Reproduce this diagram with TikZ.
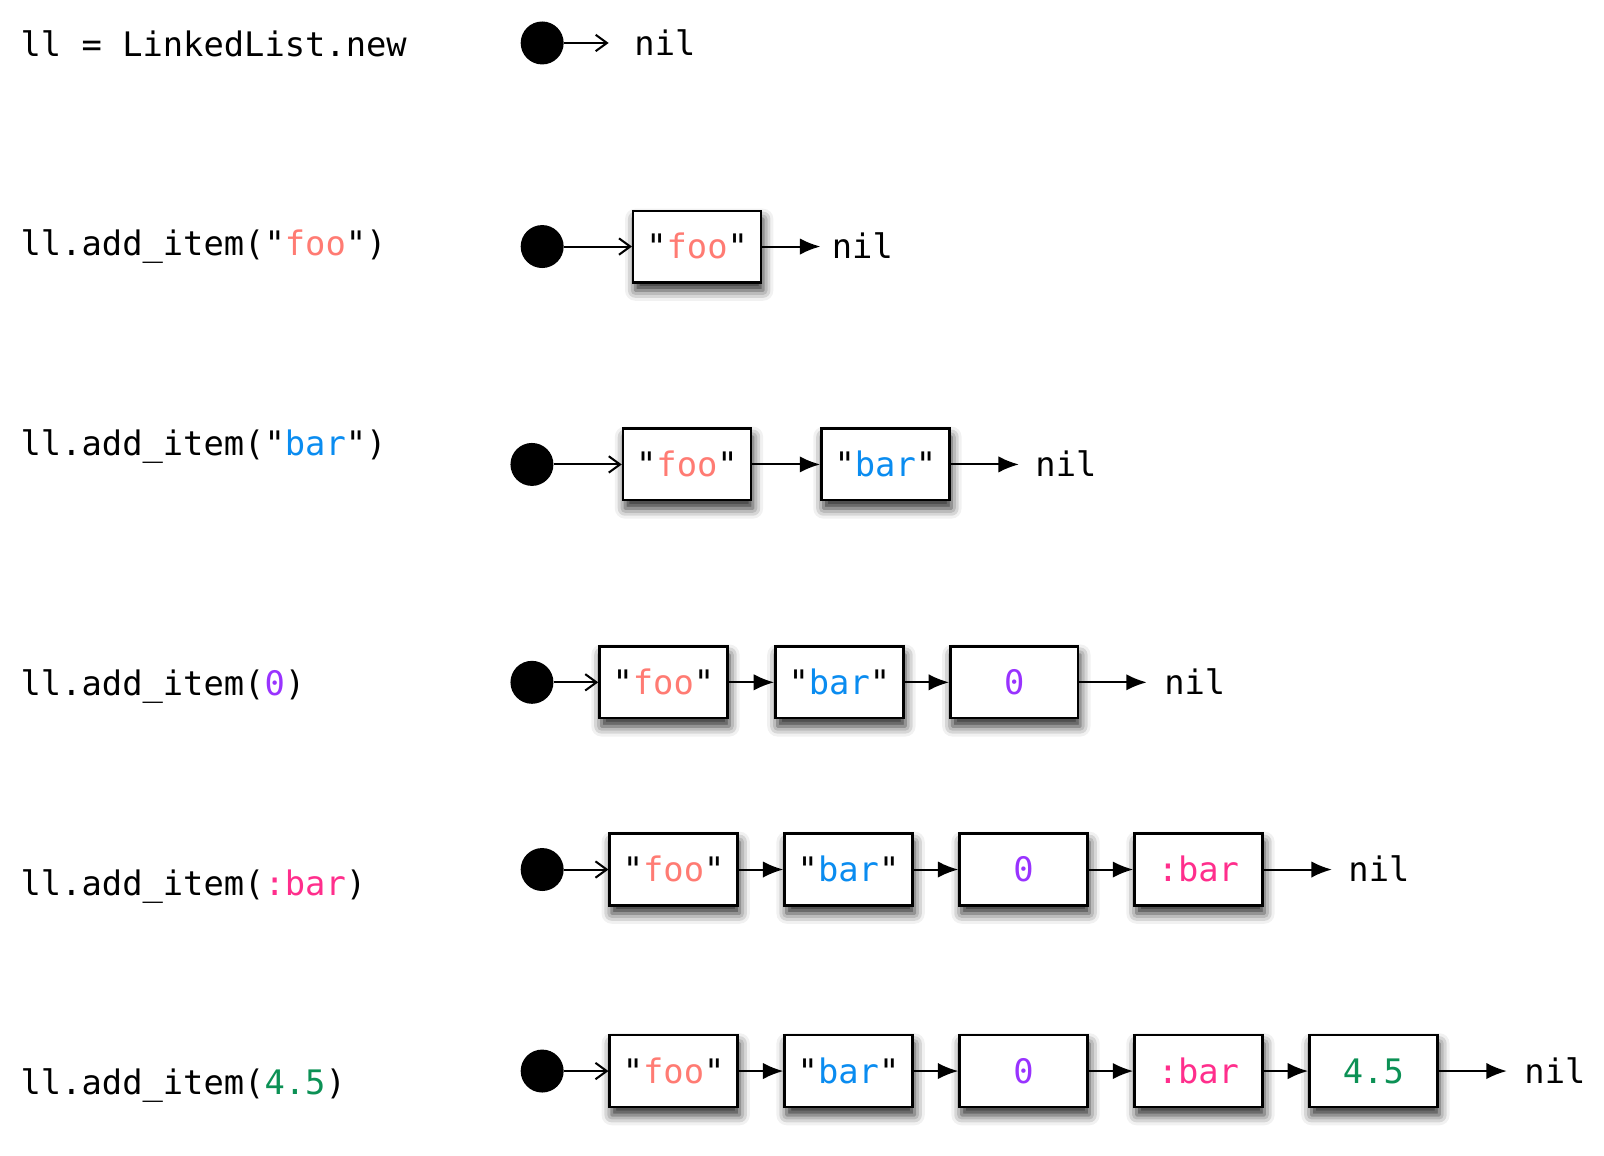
\documentclass[tikz,border=0pt]{standalone}
\usepackage{fontspec}
\setmonofont{DejaVu Sans Mono}
\usetikzlibrary{arrows.meta,shadows.blur}
\definecolor{cfoo}{HTML}{FF7B73}
\definecolor{cbar}{HTML}{0A8CF0}
\definecolor{czero}{HTML}{9933FF}
\definecolor{csym}{HTML}{FF2E8C}
\definecolor{cflt}{HTML}{0C9155}
\tikzset{
  code/.style={font=\ttfamily\fontsize{33}{40}\selectfont, inner sep=0pt, anchor=base west},
  head/.style={circle, fill=black, minimum size=42pt, inner sep=0pt},
  cell/.style={draw=black, line width=2.4pt, fill=white, minimum width=125pt, minimum height=70pt,
    inner sep=0pt, text height=26pt, text depth=2pt, font=\ttfamily\fontsize{33}{40}\selectfont,
    blur shadow={shadow xshift=2pt, shadow yshift=-8pt, shadow blur radius=10pt, shadow opacity=85}},
  nilnode/.style={font=\ttfamily\fontsize{33}{40}\selectfont, inner sep=0pt, anchor=west, text height=26pt, text depth=2pt},
  openarr/.style={line width=2pt, -{Straight Barb[length=11pt,width=16pt,line width=2pt]}},
  fillarr/.style={line width=2pt, -{Latex[length=20pt,width=16pt]}},
}
\newcommand{\sfoo}{"\textcolor{cfoo}{foo}"}
\newcommand{\sbar}{"\textcolor{cbar}{bar}"}
\newcommand{\szero}{\textcolor{czero}{0}}
\newcommand{\ssym}{\textcolor{csym}{:bar}}
\newcommand{\sflt}{\textcolor{cflt}{4.5}}
\begin{document}
\begin{tikzpicture}[x=1pt,y=-1pt]
\useasboundingbox (0,0) rectangle (1568,1130);
% labels
\node[code] (l1) at (20,55) {ll = LinkedList.new};
\node[code] (l2) at (20,250) {ll.add\_item(\sfoo)};
\node[code] (l3) at (20,445) {ll.add\_item(\sbar)};
\node[code] (l4) at (20,680) {ll.add\_item(\szero)};
\node[code] (l5) at (20,875) {ll.add\_item(\ssym)};
\node[code] (l6) at (20,1070) {ll.add\_item(\sflt)};
% row 1
\node[head] (c1) at (530,42) {};
\node[nilnode] (n1) at (620,42) {nil};
\draw[openarr, shorten >=25pt] (c1) -- (n1);
% row 2
\node[head] (c2) at (530,241) {};
\node[cell] (b21) at (681.5,241) {\sfoo};
\node[nilnode] (n2) at (813,241) {nil};
\draw[openarr] (c2) -- (b21);
\draw[fillarr, shorten >=11pt] (b21) -- (n2);
% row 3
\node[head] (c3) at (520,454) {};
\node[cell] (b31) at (671.5,454) {\sfoo};
\node[cell] (b32) at (865.5,454) {\sbar};
\node[nilnode] (n3) at (1012,454) {nil};
\draw[openarr] (c3) -- (b31);
\draw[fillarr] (b31) -- (b32);
\draw[fillarr, shorten >=16pt] (b32) -- (n3);
% row 4
\node[head] (c4) at (520,667) {};
\node[cell] (b41) at (648.5,667) {\sfoo};
\node[cell] (b42) at (820.5,667) {\sbar};
\node[cell] (b43) at (991.5,667) {\szero};
\node[nilnode] (n4) at (1138,667) {nil};
\draw[openarr] (c4) -- (b41);
\draw[fillarr] (b41) -- (b42);
\draw[fillarr] (b42) -- (b43);
\draw[fillarr, shorten >=17pt] (b43) -- (n4);
% row 5
\node[head] (c5) at (530,850) {};
\node[cell] (b51) at (658.5,850) {\sfoo};
\node[cell] (b52) at (829.5,850) {\sbar};
\node[cell] (b53) at (1000.5,850) {\szero};
\node[cell] (b54) at (1171.5,850) {\ssym};
\node[nilnode] (n5) at (1318,850) {nil};
\draw[openarr] (c5) -- (b51);
\draw[fillarr] (b51) -- (b52);
\draw[fillarr] (b52) -- (b53);
\draw[fillarr] (b53) -- (b54);
\draw[fillarr, shorten >=16pt] (b54) -- (n5);
% row 6
\node[head] (c6) at (530,1047) {};
\node[cell] (b61) at (658.5,1047) {\sfoo};
\node[cell] (b62) at (829.5,1047) {\sbar};
\node[cell] (b63) at (1000.5,1047) {\szero};
\node[cell] (b64) at (1171.5,1047) {\ssym};
\node[cell] (b65) at (1342.5,1047) {\sflt};
\node[nilnode] (n6) at (1490,1047) {nil};
\draw[openarr] (c6) -- (b61);
\draw[fillarr] (b61) -- (b62);
\draw[fillarr] (b62) -- (b63);
\draw[fillarr] (b63) -- (b64);
\draw[fillarr] (b64) -- (b65);
\draw[fillarr, shorten >=17pt] (b65) -- (n6);
\end{tikzpicture}
\end{document}
